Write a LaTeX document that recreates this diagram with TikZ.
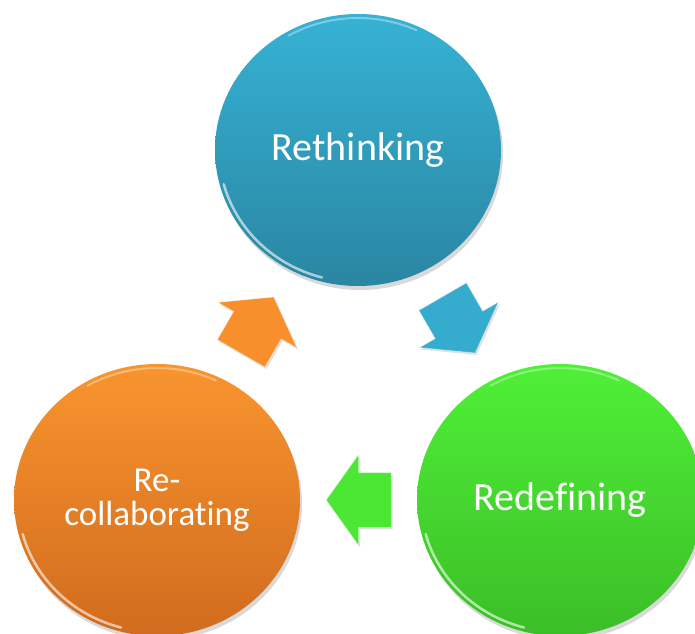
\documentclass[tikz,border=0pt]{standalone}
\usepackage{fontspec}
\setmainfont{Carlito}[Ligatures=NoCommon]
\usetikzlibrary{shapes.geometric,shapes.arrows,positioning,calc,shadows}

\definecolor{blueTop}{HTML}{36B2D5}
\definecolor{blueBot}{HTML}{2A86A2}
\definecolor{greenTop}{HTML}{4FF037}
\definecolor{greenBot}{HTML}{3BBE27}
\definecolor{orangeTop}{HTML}{F9952F}
\definecolor{orangeBot}{HTML}{D16B1E}
\definecolor{blueArr}{HTML}{35ACCE}
\definecolor{greenArr}{HTML}{4CE634}
\definecolor{orangeArr}{HTML}{F68F2C}

\begin{document}
\begin{tikzpicture}[
    %---- global ----
    x=1pt, y=1pt,
    on grid,
    node distance = 350pt and 201pt,             % centre to centre
    bubble/.style = {ellipse, inner sep=0pt,
                     minimum width=286pt, minimum height=272pt,
                     text=white, align=center,
                     font=\fontsize{40}{46}\selectfont,
                     drop shadow={opacity=0.3, shadow xshift=2pt, shadow yshift=-4pt},
                     path picture={
                       \draw[white, opacity=0.6, line width=2.5pt, line cap=round]
                         ([shift={(195:139pt and 132pt)}]path picture bounding box.center)
                         arc[start angle=195, end angle=255, x radius=139pt, y radius=132pt];
                       \draw[white, opacity=0.35, line width=2pt, line cap=round]
                         ([shift={(65:139pt and 132pt)}]path picture bounding box.center)
                         arc[start angle=65, end angle=120, x radius=139pt, y radius=132pt];
                     }},
    chunk/.style = {single arrow, inner xsep=0pt, inner ysep=27pt,
                    minimum height=65pt,
                    single arrow head extend=18pt,
                    single arrow tip angle=109,
                    draw=white, draw opacity=0.35, line width=0.8pt,
                    drop shadow={opacity=0.25, shadow xshift=1.5pt, shadow yshift=-2pt}},
]
\useasboundingbox (0,0) rectangle (695,633);

%---- circles ----
\node (rethink)  [bubble, top color=blueTop, bottom color=blueBot] at (358,483) {Rethinking};

\node (recollab) [bubble, top color=orangeTop, bottom color=orangeBot,
                  font=\fontsize{35}{34}\selectfont,
                  below left=of rethink]  {Re-\\collaborating};

\node (redefine) [bubble, top color=greenTop, bottom color=greenBot,
                  below right=350pt and 202pt of rethink] {Redefining};

%---- block arrows ----
\foreach \a/\b/\c/\ang in {
  recollab/rethink/orangeArr/60, rethink/redefine/blueArr/-60,
  redefine/recollab/greenArr/180}
  \node [chunk, fill=\c, rotate=\ang, xshift=-10pt] at ($(\a)!0.5!(\b)$) {};
\end{tikzpicture}
\end{document}
